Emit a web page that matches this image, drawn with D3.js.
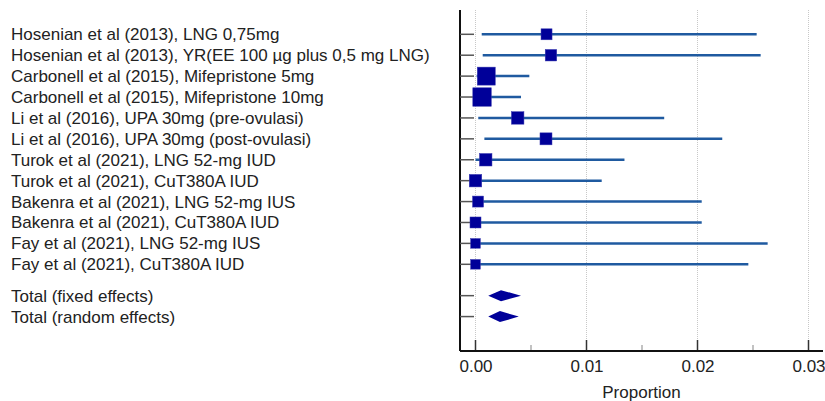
<!DOCTYPE html>
<html><head><meta charset="utf-8">
<script src="https://cdn.jsdelivr.net/npm/d3@7"></script>
<style>body{margin:0;background:#fff}svg{display:block}</style>
</head><body>
<script>
const studies = [
  "Hosenian et al (2013), LNG 0,75mg",
  "Hosenian et al (2013), YR(EE 100 µg plus 0,5 mg LNG)",
  "Carbonell et al (2015), Mifepristone 5mg",
  "Carbonell et al (2015), Mifepristone 10mg",
  "Li et al (2016), UPA 30mg (pre-ovulasi)",
  "Li et al (2016), UPA 30mg (post-ovulasi)",
  "Turok et al (2021), LNG 52-mg IUD",
  "Turok et al (2021), CuT380A IUD",
  "Bakenra et al (2021), LNG 52-mg IUS",
  "Bakenra et al (2021), CuT380A IUD",
  "Fay et al (2021), LNG 52-mg IUS",
  "Fay et al (2021), CuT380A IUD"
];
const estimate = [0.0064, 0.0068, 0.00097, 0.00059, 0.0038, 0.00635, 0.00092, 0.0, 0.00023, 0.0, 0.0, 0.0];
const lower    = [0.00056, 0.00065, 0.0001, 0.0, 0.00025, 0.0008, 0.0, 0.0, 0.0, 0.0, 0.0, 0.0];
const upper    = [0.02533, 0.02569, 0.00485, 0.0041, 0.0170, 0.02223, 0.01342, 0.01137, 0.02038, 0.02038, 0.02632, 0.02458];
const weight   = [11, 11.5, 18, 18.5, 12.5, 12, 12.5, 12.5, 11, 11, 9.7, 9.7];
const totals      = ["Total (fixed effects)", "Total (random effects)"];
const totalEst    = [0.0023, 0.0022];
const totalLower  = [0.00115, 0.00115];
const totalUpper  = [0.0041, 0.0039];
const xTicks = [0, 0.01, 0.02, 0.03];
const xMinor = [0.005, 0.015, 0.025];
const xTitle = "Proportion";

const W = 825, H = 401;
const svg = d3.select("body").append("svg").attr("width", W).attr("height", H);

const x = d3.scaleLinear().domain([0, 0.03]).range([475.5, 808.5]);
const y = d3.scaleLinear().domain([0, 11]).range([34.3, 264.3]);
const axisLeft = 460, axisTop = 10, axisBottom = 351, axisRight = 823;
const font = "Liberation Sans, Arial, sans-serif";
const fs = 17;

// gridlines
svg.append("g").selectAll("line").data(xTicks).join("line")
  .attr("x1", d => x(d)).attr("x2", d => x(d))
  .attr("y1", axisTop).attr("y2", axisBottom)
  .attr("stroke", "#c8c8c8").attr("stroke-width", 1).attr("stroke-dasharray", "1,1");

// bottom axis
const xAxis = d3.axisBottom(x).tickValues(xTicks).tickFormat(d3.format(".2f")).tickSize(0).tickPadding(9);
const gx = svg.append("g").attr("transform", `translate(0,${axisBottom})`).call(xAxis);
gx.select(".domain").remove();
gx.selectAll("text").attr("font-family", font).attr("font-size", fs).attr("fill", "#222");
svg.append("g").selectAll("line").data(xTicks).join("line")
  .attr("x1", d => x(d)).attr("x2", d => x(d)).attr("y1", axisBottom - 11).attr("y2", axisBottom)
  .attr("stroke", "#333").attr("stroke-width", 1.5);
svg.append("g").selectAll("line").data(xMinor).join("line")
  .attr("x1", d => x(d)).attr("x2", d => x(d)).attr("y1", axisBottom - 6).attr("y2", axisBottom)
  .attr("stroke", "#999").attr("stroke-width", 1.2);
svg.append("line").attr("x1", axisLeft).attr("x2", axisRight).attr("y1", axisBottom).attr("y2", axisBottom)
  .attr("stroke", "#111").attr("stroke-width", 2);
svg.append("line").attr("x1", axisLeft).attr("x2", axisLeft).attr("y1", axisTop).attr("y2", axisBottom)
  .attr("stroke", "#111").attr("stroke-width", 2);
svg.append("text").attr("x", (axisLeft + axisRight) / 2).attr("y", 398)
  .attr("text-anchor", "middle").attr("font-family", font).attr("font-size", fs).attr("fill", "#222").text(xTitle);

const yTot = [12.5, 13.5];
const allY = d3.range(studies.length).concat(yTot);
// left row ticks
svg.append("g").selectAll("line").data(allY).join("line")
  .attr("x1", axisLeft).attr("x2", axisLeft + 14).attr("y1", d => y(d)).attr("y2", d => y(d))
  .attr("stroke", "#555").attr("stroke-width", 1.5);

// labels
svg.append("g").selectAll("text").data(studies).join("text")
  .attr("x", 11).attr("y", (d, i) => y(i)).attr("dy", "0.35em")
  .attr("font-family", font).attr("font-size", fs).attr("fill", "#222").text(d => d);
svg.append("g").selectAll("text").data(totals).join("text")
  .attr("x", 11).attr("y", (d, i) => y(yTot[i])).attr("dy", "0.35em")
  .attr("font-family", font).attr("font-size", fs).attr("fill", "#222").text(d => d);

// CI lines
svg.append("g").selectAll("line").data(studies).join("line")
  .attr("x1", (d, i) => x(lower[i])).attr("x2", (d, i) => x(upper[i]))
  .attr("y1", (d, i) => y(i)).attr("y2", (d, i) => y(i))
  .attr("stroke", "#1f5aa0").attr("stroke-width", 2.5);

// squares
svg.append("g").selectAll("rect").data(studies).join("rect")
  .attr("x", (d, i) => x(estimate[i]) - weight[i] / 2)
  .attr("y", (d, i) => y(i) - weight[i] / 2)
  .attr("width", (d, i) => weight[i]).attr("height", (d, i) => weight[i])
  .attr("fill", "#000099").attr("stroke", "#3a3ab0").attr("stroke-width", 0.5);

// diamonds
svg.append("g").selectAll("path").data(totals).join("path")
  .attr("d", (d, i) => {
    const yc = y(yTot[i]), h = 5.5;
    return `M${x(totalLower[i])},${yc}L${x(totalEst[i])},${yc - h}L${x(totalUpper[i])},${yc}L${x(totalEst[i])},${yc + h}Z`;
  })
  .attr("fill", "#000099");
</script>
</body></html>
